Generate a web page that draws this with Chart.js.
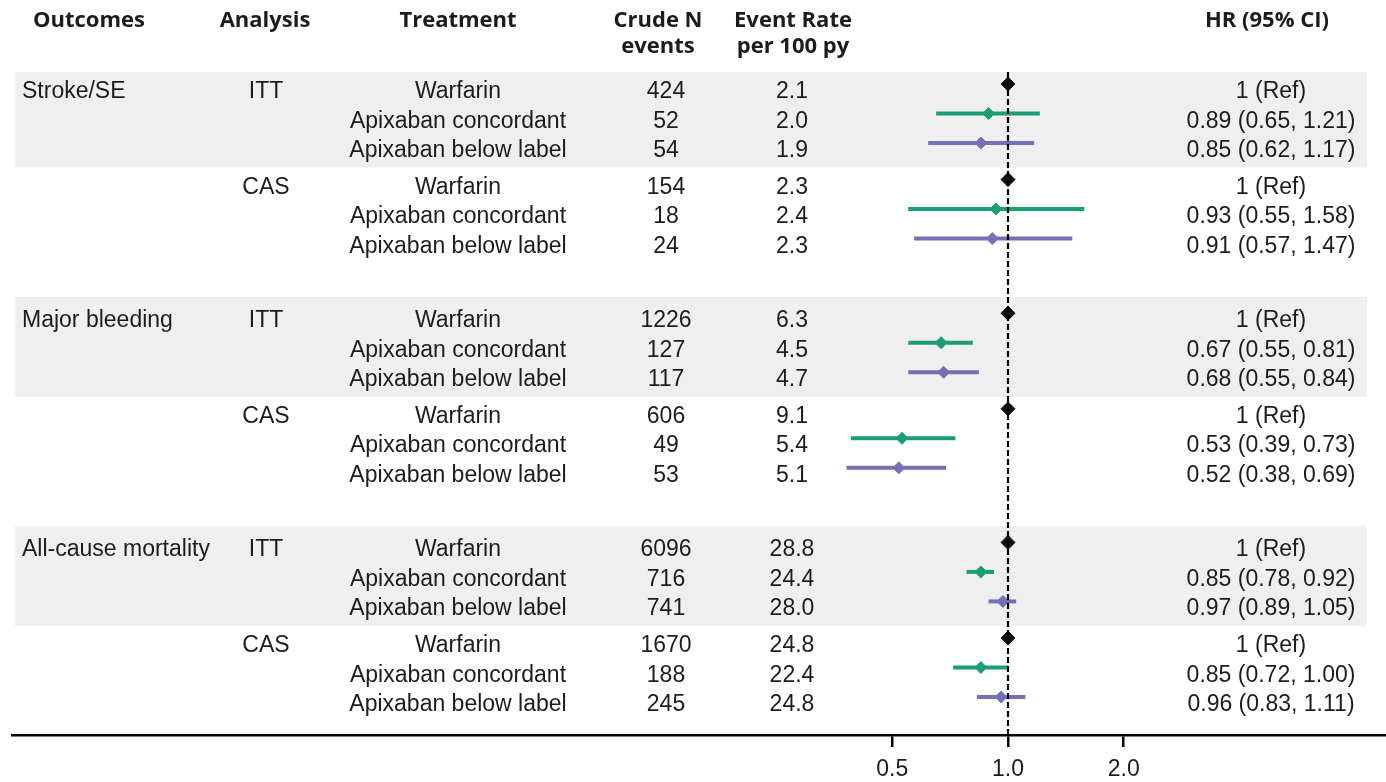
<!DOCTYPE html>
<html>
<head>
<meta charset="utf-8">
<title>Forest plot: apixaban dosing vs warfarin</title>
<script src="https://cdn.jsdelivr.net/npm/chart.js@4.4.1/dist/chart.umd.min.js"></script>
<style>
  html, body { margin: 0; padding: 0; background: #ffffff; overflow: hidden; }
  /* the canvas is a little wider than the page so the plot area (which keeps
     room for the marker radius on the right) still reaches the page edge */
  #wrap { width: 1386px; height: 782px; position: relative; overflow: hidden; }
  canvas { display: block; }
</style>
</head>
<body>
<div id="wrap"><canvas id="forest" width="1394" height="782"></canvas></div>
<script>
// ---- data ----
const outcomes = ['Stroke/SE', 'Major bleeding', 'All-cause mortality'];
const analyses = ['ITT', 'CAS'];
const treatments = ['Warfarin', 'Apixaban concordant', 'Apixaban below label'];

// one entry per row: outcome -> analysis -> treatment
const crudeEvents = [424, 52, 54, 154, 18, 24,
                     1226, 127, 117, 606, 49, 53,
                     6096, 716, 741, 1670, 188, 245];
const eventRates = ['2.1', '2.0', '1.9', '2.3', '2.4', '2.3',
                    '6.3', '4.5', '4.7', '9.1', '5.4', '5.1',
                    '28.8', '24.4', '28.0', '24.8', '22.4', '24.8'];
const hrPoint = [1, 0.89, 0.85, 1, 0.93, 0.91,
                 1, 0.67, 0.68, 1, 0.53, 0.52,
                 1, 0.85, 0.97, 1, 0.85, 0.96];
const hrLower = [null, 0.65, 0.62, null, 0.55, 0.57,
                 null, 0.55, 0.55, null, 0.39, 0.38,
                 null, 0.78, 0.89, null, 0.72, 0.83];
const hrUpper = [null, 1.21, 1.17, null, 1.58, 1.47,
                 null, 0.81, 0.84, null, 0.73, 0.69,
                 null, 0.92, 1.05, null, 1.00, 1.11];
const xTickValues = [0.5, 1, 2];

// ---- layout ----
const OUTCOME_STEP = 7.77;   // rows between outcome blocks
const ANALYSIS_STEP = 3.24;  // rows between ITT and CAS blocks
const Y_MIN = -0.407, Y_MAX = 22.068;
const X_MIN = 0.002562, X_MAX = 9.627;
const COLORS = ['#111111', '#1b9e77', '#7570b3'];
const BODY_FONT = '23px "Liberation Sans", Arial, sans-serif';
const HEAD_FONT = 'bold 22px "Open Sans", "Liberation Sans", sans-serif';
const TEXT_COLOR = '#1c1c1c';

const rows = [];
outcomes.forEach((o, oi) => {
  analyses.forEach((a, ai) => {
    treatments.forEach((t, ti) => {
      const i = rows.length;
      rows.push({
        outcome: ai === 0 && ti === 0 ? o : '',
        analysis: ti === 0 ? a : '',
        treatment: t,
        tIndex: ti,
        y: oi * OUTCOME_STEP + ai * ANALYSIS_STEP + ti,
        n: crudeEvents[i],
        rate: eventRates[i],
        hr: hrPoint[i],
        lo: hrLower[i],
        hi: hrUpper[i]
      });
    });
  });
});

const fmt = v => v.toFixed(2);
const hrText = r => r.lo === null ? '1 (Ref)' : `${fmt(r.hr)} (${fmt(r.lo)}, ${fmt(r.hi)})`;

// ---- datasets ----
const datasets = [];
rows.forEach(r => {
  if (r.lo === null) return;
  datasets.push({
    type: 'line',
    data: [{ x: r.lo, y: r.y }, { x: r.hi, y: r.y }],
    borderColor: COLORS[r.tIndex],
    borderWidth: 4,
    pointRadius: 0,
    order: 3
  });
});
[0, 1, 2].forEach(ti => {
  datasets.push({
    type: 'scatter',
    data: rows.filter(r => r.tIndex === ti).map(r => ({ x: r.hr, y: r.y })),
    pointStyle: 'rectRot',
    pointRadius: ti === 0 ? 7 : 6,
    backgroundColor: COLORS[ti],
    borderColor: COLORS[ti],
    borderWidth: 1,
    order: 2
  });
});
// reference line at HR = 1
datasets.push({
  type: 'line',
  data: [{ x: 1, y: Y_MIN }, { x: 1, y: Y_MAX }],
  borderColor: '#000000',
  borderWidth: 2.2,
  borderDash: [6, 3],
  pointRadius: 0,
  order: 1
});

// shaded ITT blocks and the table text
const tablePlugin = {
  id: 'forestTable',
  beforeDatasetsDraw(chart) {
    const { ctx, chartArea, scales: { y } } = chart;
    ctx.save();
    ctx.fillStyle = '#efefef';
    outcomes.forEach((o, oi) => {
      const base = oi * OUTCOME_STEP;
      const top = Math.max(y.getPixelForValue(base - 0.55), chartArea.top);
      const bottom = y.getPixelForValue(base + 2.83);
      ctx.fillRect(15, top, 1367 - 15, bottom - top);
    });
    ctx.restore();
  },
  afterDraw(chart) {
    const { ctx, scales: { y } } = chart;
    ctx.save();
    ctx.fillStyle = TEXT_COLOR;
    ctx.textBaseline = 'alphabetic';

    // column headers
    ctx.font = HEAD_FONT;
    ctx.textAlign = 'center';
    ctx.fillText('Outcomes', 89, 27);
    ctx.fillText('Analysis', 265, 27);
    ctx.fillText('Treatment', 458, 27);
    ctx.fillText('Crude N', 658, 27);
    ctx.fillText('events', 658, 53);
    ctx.fillText('Event Rate', 793, 27);
    ctx.fillText('per 100 py', 793, 53);
    ctx.fillText('HR (95% CI)', 1267, 27);

    // body rows
    ctx.font = BODY_FONT;
    rows.forEach(r => {
      const py = y.getPixelForValue(r.y) + 14;
      if (r.outcome) { ctx.textAlign = 'left'; ctx.fillText(r.outcome, 22, py); }
      ctx.textAlign = 'center';
      if (r.analysis) ctx.fillText(r.analysis, 266, py);
      ctx.fillText(r.treatment, 458, py);
      ctx.fillText(String(r.n), 666, py);
      ctx.fillText(r.rate, 792, py);
      ctx.fillText(hrText(r), 1271, py);
    });
    ctx.restore();
  }
};

new Chart(document.getElementById('forest'), {
  data: { datasets },
  options: {
    responsive: false,
    devicePixelRatio: 1,
    animation: false,
    events: [],
    layout: { padding: { top: 72, left: 12, right: 0, bottom: 0 } },
    plugins: { legend: { display: false }, tooltip: { enabled: false } },
    scales: {
      x: {
        type: 'logarithmic',
        position: 'bottom',
        bounds: 'data',
        min: X_MIN,
        max: X_MAX,
        afterBuildTicks(scale) { scale.ticks = xTickValues.map(v => ({ value: v })); },
        afterFit(scale) {
          scale.height = 47;
          scale.paddingLeft = 0;
          scale.paddingRight = 0;
        },
        grid: {
          display: true,
          drawOnChartArea: false,
          drawTicks: true,
          tickLength: 12,
          color: '#000000',
          lineWidth: 2.5
        },
        border: { display: true, color: '#000000', width: 2.5 },
        ticks: {
          autoSkip: false,
          maxRotation: 0,
          padding: 9,
          color: TEXT_COLOR,
          font: { family: '"Liberation Sans", Arial, sans-serif', size: 23 },
          callback: v => Number(v).toFixed(1)
        }
      },
      y: {
        type: 'linear',
        display: false,
        reverse: true,
        bounds: 'data',
        min: Y_MIN,
        max: Y_MAX
      }
    }
  },
  plugins: [tablePlugin]
});
</script>
</body>
</html>
